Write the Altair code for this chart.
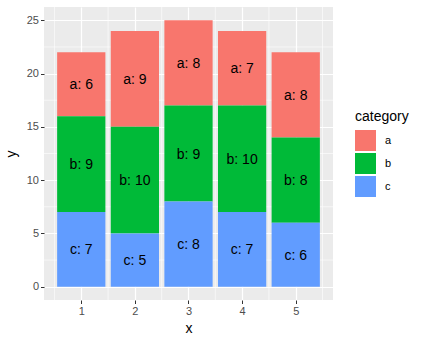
import altair as alt
import pandas as pd

xs = [1, 2, 3, 4, 5]
a_vals = [6, 9, 8, 7, 8]
b_vals = [9, 10, 9, 10, 8]
c_vals = [7, 5, 8, 7, 6]
categories = ["a", "b", "c"]
colors = ["#F8766D", "#00BA38", "#619CFF"]
y_minor = [2.5, 7.5, 12.5, 17.5, 22.5]
x_minor = [0.5, 1.5, 2.5, 3.5, 4.5, 5.5]

rows = []
for i, x in enumerate(xs):
    for cat, vals in zip(categories, [a_vals, b_vals, c_vals]):
        rows.append({"x": x, "category": cat, "value": vals[i]})
df = pd.DataFrame(rows)

xscale = alt.Scale(domain=[0.305, 5.695], nice=False, zero=False)
yscale = alt.Scale(domain=[-1.25, 26.25], nice=False, zero=False)

base = alt.Chart(df).transform_stack(
    stack="value", as_=["y0", "y1"], groupby=["x"],
    sort=[alt.SortField("category", order="descending")]
).transform_calculate(
    xlo="datum.x - 0.45", xhi="datum.x + 0.45",
    mid="(datum.y0 + datum.y1) / 2",
    label="datum.category + ': ' + datum.value"
)

xaxis = alt.Axis(values=xs, title="x", grid=True, format="d")
yaxis = alt.Axis(values=[0, 5, 10, 15, 20, 25], title="y", grid=True, format="d")

vminor = alt.Chart(pd.DataFrame({"m": x_minor})).mark_rule(
    color="white", strokeWidth=0.6).encode(x=alt.X("m:Q", scale=xscale, axis=xaxis))
hminor = alt.Chart(pd.DataFrame({"m": y_minor})).mark_rule(
    color="white", strokeWidth=0.6).encode(y=alt.Y("m:Q", scale=yscale, axis=yaxis))

bars = base.mark_rect().encode(
    x=alt.X("xlo:Q", scale=xscale, axis=xaxis),
    x2="xhi:Q",
    y=alt.Y("y0:Q", scale=yscale, axis=yaxis),
    y2="y1:Q",
    color=alt.Color("category:N", scale=alt.Scale(domain=categories, range=colors),
                    legend=alt.Legend(title="category", orient="none", legendX=311, legendY=103,
                                      symbolType="square", symbolSize=441, symbolStrokeWidth=0,
                                      rowPadding=2, labelOffset=9, titlePadding=6,
                                      titleFontSize=14, titleFontWeight="normal", titleColor="black",
                                      labelFontSize=11, labelColor="black", titleFont="Liberation Sans",
                                      labelFont="Liberation Sans")),
)

texts = base.mark_text(fontSize=14, font="Liberation Sans", color="black", dy=1).encode(
    x=alt.X("x:Q", scale=xscale, axis=xaxis),
    y=alt.Y("mid:Q", scale=yscale, axis=yaxis),
    text="label:N",
)

chart = alt.layer(vminor, hminor, bars, texts).properties(
    width=289, height=293,
    autosize=alt.AutoSizeParams(type="none"),
    padding={"left": 44, "top": 7, "right": 93, "bottom": 43},
    background="white",
).configure_view(fill="#EBEBEB", strokeWidth=0).configure_axis(
    domain=False, gridColor="white", gridWidth=1.2, tickColor="#333333", tickSize=3.5,
    tickWidth=1, labelColor="#4D4D4D", labelFontSize=11, labelFont="Liberation Sans",
    labelPadding=2, titleFont="Liberation Sans", titleFontSize=14, titleFontWeight="normal",
    titleColor="black"
).configure_axisX(titlePadding=5).configure_axisY(titlePadding=8)

chart.save("out.html", embed_options={"renderer": "svg", "actions": False})
